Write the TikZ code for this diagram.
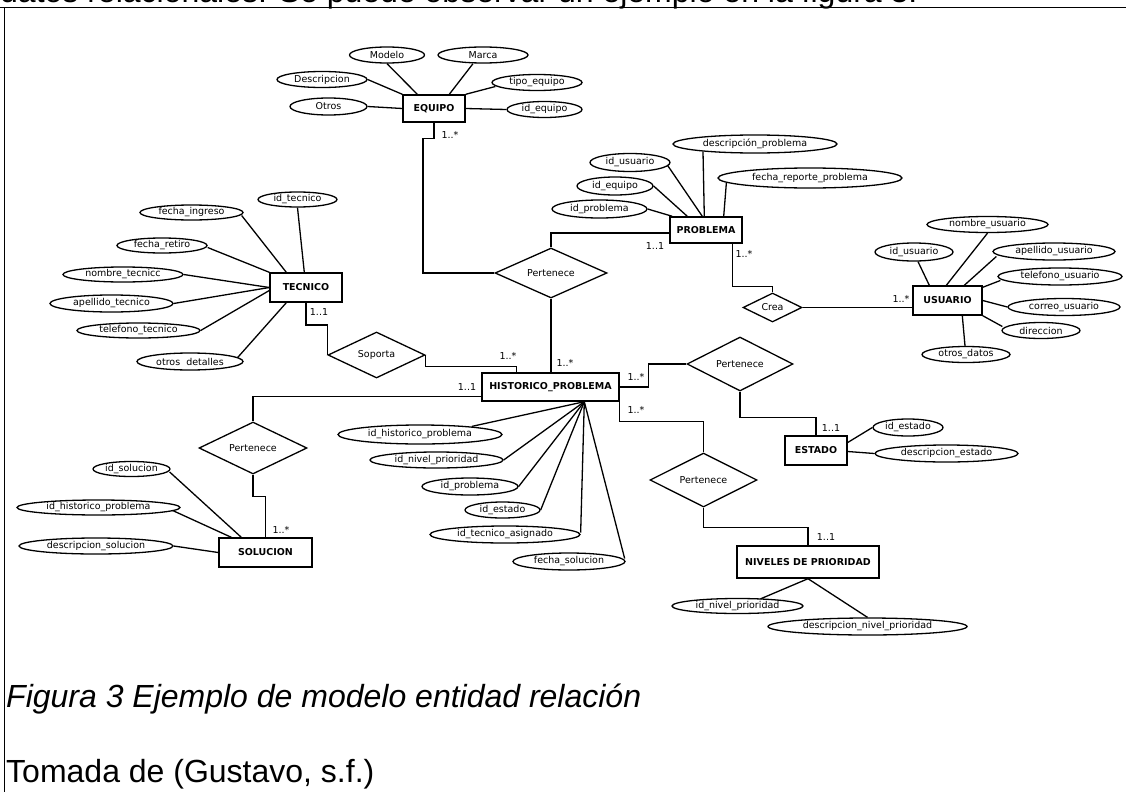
\documentclass[tikz,border=0pt]{standalone}
\usepackage{fontspec}
\setmainfont{Liberation Sans}
\newfontfamily\erfont{DejaVu Sans}
\usetikzlibrary{shapes.geometric,calc}

\tikzset{
  erfnt/.style={font=\erfont\fontsize{9.5}{10}\selectfont},
  att/.style 2 args={draw, ellipse, line width=1.3pt, inner sep=0pt,
    minimum width=#1, minimum height=#2, erfnt},
  ent/.style 2 args={draw, rectangle, line width=1.4pt, inner sep=0pt,
    minimum width=#1, minimum height=#2,
    font=\erfont\bfseries\fontsize{9.5}{10}\selectfont},
  rel/.style 2 args={draw, diamond, aspect=2, inner sep=0pt, line width=1.3pt,
    minimum width=#1, minimum height=#2, erfnt},
  card/.style={inner sep=0pt, erfnt},
  link/.style={line width=1.3pt},
  bigtext/.style={anchor=base west, inner sep=0pt, font=\fontsize{32}{38}\selectfont},
}

\begin{document}
\begin{tikzpicture}[x=1pt, y=-1pt]
\useasboundingbox (0,0) rectangle (1126,792);

% running text and page frame
\node[bigtext] (toptext) at (0,3) {datos relacionales. Se puede observar un ejemplo en la figura 3.};
\draw[line width=1pt] (0,8) -- (1126,8);
\draw[line width=1pt] (4,8) -- (4,792);

% ---------- entities ----------
\node[ent={62}{27}]  (equipo)    at (434,108.5) {EQUIPO};
\node[ent={72}{26}]  (problema)  at (706,230)   {PROBLEMA};
\node[ent={69}{29}]  (usuario)   at (947.5,300.5) {USUARIO};
\node[ent={72}{29}]  (tecnico)   at (306,287.5) {TECNICO};
\node[ent={137}{28}] (historico) at (550.5,387) {HISTORICO\_PROBLEMA};
\node[ent={62}{29}]  (estado)    at (816,450.5) {ESTADO};
\node[ent={142}{32}] (niveles)   at (808,562)   {NIVELES DE PRIORIDAD};
\node[ent={93}{29}]  (solucion)  at (265.5,552.5) {SOLUCION};

% ---------- relationships ----------
\node[rel={112}{50}] (perA)    at (551,273)   {Pertenece};
\node[rel={59}{29}]  (crea)    at (772.5,307.5) {Crea};
\node[rel={97}{46}]  (soporta) at (376.5,355) {Soporta};
\node[rel={106}{54}] (perE)    at (740,364)   {Pertenece};
\node[rel={107}{54}] (perP)    at (703.5,480) {Pertenece};
\node[rel={108}{52}] (perS)    at (253,448)   {Pertenece};

% ---------- attributes ----------
% EQUIPO
\node[att={75}{16}] (modelo) at (387,55)    {Modelo};
\node[att={90}{16}] (marca)  at (483,55)    {Marca};
\node[att={90}{16}] (descr)  at (322,79.5)  {Descripcion};
\node[att={90}{16}] (tipo)   at (537,82.5)  {tipo\_equipo};
\node[att={77}{17}] (otros)  at (328.5,106.5) {Otros};
\node[att={75}{16}] (ideq)   at (544.5,109.5) {id\_equipo};
% PROBLEMA
\node[att={164}{18}] (descprob) at (755,144)   {descripción\_problema};
\node[att={80}{18}]  (idus)     at (630,162.5) {id\_usuario};
\node[att={76}{18}]  (ideqb)    at (615,186)   {id\_equipo};
\node[att={95}{18}]  (idprob)   at (599.5,209) {id\_problema};
\node[att={184}{20}] (fecharep) at (810,178)   {fecha\_reporte\_problema};
% USUARIO
\node[att={121}{16}] (nomus)  at (987.5,224.5) {nombre\_usuario};
\node[att={78}{18}]  (idusb)  at (914,252)     {id\_usuario};
\node[att={122}{17}] (apus)   at (1054,251.5)  {apellido\_usuario};
\node[att={124}{17}] (telus)  at (1060,276.5)  {telefono\_usuario};
\node[att={112}{17}] (corus)  at (1064,307)    {correo\_usuario};
\node[att={78}{16}]  (direc)  at (1041,330.5)  {direccion};
\node[att={88}{16}]  (otrosd) at (966,354.5)   {otros\_datos};
% TECNICO
\node[att={79}{15}]  (idtec)  at (297.5,199.5) {id\_tecnico};
\node[att={103}{15}] (fing)   at (191.5,212.5) {fecha\_ingreso};
\node[att={90}{15}]  (fret)   at (162,245.5)   {fecha\_retiro};
\node[att={120}{15}] (nomtec) at (123,274.5)   {nombre\_tecnicc};
\node[att={123}{17}] (apetec) at (111.5,303.5) {apellido\_tecnico};
\node[att={123}{15}] (teltec) at (138.5,330.5) {telefono\_tecnico};
\node[att={106}{17}] (otrdet) at (190,361.5)   {otros\ \ detalles};
% HISTORICO_PROBLEMA
\node[att={164}{19}] (idhist)  at (420,434.5) {id\_historico\_problema};
\node[att={133}{16}] (idniv)   at (436.5,460) {id\_nivel\_prioridad};
\node[att={96}{17}]  (idprobb) at (470,486.5) {id\_problema};
\node[att={75}{16}]  (idest)   at (502.5,510) {id\_estado};
\node[att={150}{17}] (idtecas) at (505,534.5) {id\_tecnico\_asignado};
\node[att={112}{17}] (fsol)    at (569,561.5) {fecha\_solucion};
% ESTADO
\node[att={70}{17}]  (idestb)  at (908,427.5) {id\_estado};
\node[att={143}{17}] (descest) at (946.5,453.5) {descripcion\_estado};
% NIVELES DE PRIORIDAD
\node[att={131}{15}] (idnivb)  at (737.5,606)   {id\_nivel\_prioridad};
\node[att={199}{17}] (descniv) at (867.5,626.5) {descripcion\_nivel\_prioridad};
% SOLUCION
\node[att={77}{15}]  (idsol)   at (131.5,469) {id\_solucion};
\node[att={163}{15}] (idhistb) at (98.5,507.5) {id\_historico\_problema};
\node[att={154}{16}] (descsol) at (96,546)    {descripcion\_solucion};

% ---------- attribute links ----------
\draw[link] (modelo.south) -- ($(equipo.north west)+(15,0)$);
\draw[link] ($(marca.south)+(-10,0)$) -- ($(equipo.north west)+(47,0)$);
\draw[link] (descr.east) -- (equipo.north west);
\draw[link] ($(tipo.west)+(4,4)$) -- (equipo.north east);
\draw[link] (otros.east) -- (equipo.west);
\draw[link] (equipo.east) -- (ideq.west);

\draw[link] ($(descprob.south)+(-52,-2)$) -- ($(problema.north west)+(35,0)$);
\draw[link] ($(idus.east)+(-3,3)$) -- ($(problema.north west)+(33,0)$);
\draw[link] (ideqb.east) -- ($(problema.north west)+(18,0)$);
\draw[link] (idprob.east) -- ($(problema.north west)+(3,0)$);
\draw[link] ($(fecharep.west)+(9,5)$) -- ($(problema.north east)+(-19,0)$);

\draw[link] ($(idusb.south)+(4,0)$) -- ($(usuario.north west)+(17,0)$);
\draw[link] (nomus.south) -- ($(usuario.north west)+(34,0)$);
\draw[link] ($(apus.west)+(4,5)$) -- ($(usuario.north west)+(52,0)$);
\draw[link] ($(telus.west)+(3,4)$) -- ($(usuario.north east)+(0,2)$);
\draw[link] (usuario.east) -- (corus.west);
\draw[link] (usuario.south east) -- ($(direc.west)+(1,-4)$);
\draw[link] ($(usuario.south west)+(50,0)$) -- ($(otrosd.north)+(-1,0)$);

\draw[link] (idtec.south) -- ($(tecnico.north west)+(35,0)$);
\draw[link] ($(fing.east)+(-2,3)$) -- ($(tecnico.north west)+(17,0)$);
\draw[link] ($(fret.east)+(0,2)$) -- (tecnico.north west);
\draw[link] (nomtec.east) -- (tecnico.west);
\draw[link] (apetec.east) -- (tecnico.west);
\draw[link] (teltec.east) -- ($(tecnico.west)+(0,3)$);
\draw[link] ($(otrdet.east)+(-6,-4)$) -- ($(tecnico.south west)+(17,0)$);

\coordinate (hp) at ($(historico.south west)+(103,0)$);
\draw[link] ($(idhist.north)+(52,2)$) -- (hp);
\draw[link] (idniv.east) -- (hp);
\draw[link] (idprobb.east) -- (hp);
\draw[link] (idest.east) -- (hp);
\draw[link] ($(idtecas.east)+(0,-2)$) -- (hp);
\draw[link] ($(fsol.east)+(-1,-3)$) -- (hp);

\draw[link] (idestb.west) -- ($(estado.east)+(0,-8)$);
\draw[link] (descest.west) -- ($(estado.east)+(0,1)$);

\draw[link] ($(idnivb.north)+(23,1)$) -- (niveles.south);
\draw[link] (descniv.north) -- (niveles.south);

\draw[link] ($(idsol.east)+(-1,3)$) -- ($(solucion.north west)+(23,0)$);
\draw[link] ($(idhistb.east)+(-8,3)$) -- ($(solucion.north west)+(13,0)$);
\draw[link] (descsol.east) -- (solucion.west);

% ---------- relationship links ----------
\draw[link] (equipo.south) |- ($(equipo.south)+(-11,16)$) |- (perA.west);
\draw[link] (perA.north) |- ($(problema.west)+(0,3)$);
\draw[link] (perA.south) -- (perA.south |- historico.north);
\draw[link] ($(problema.south east)+(-10,0)$) |- ($(crea.north)+(0,-6)$) -- (crea.north);
\draw[link] (crea.east) -- (crea.east -| usuario.west);
\draw[link] (tecnico.south) |- ($(soporta.west)+(0,-30)$) -- (soporta.west);
\draw[link] (soporta.east) |- ($(historico.north west)+(35,-6)$) -- ($(historico.north west)+(35,0)$);
\draw[link] ($(historico.south west)+(0,-5)$) -| (perS.north);
\draw[link] (perS.south) |- ($(solucion.north)+(0,-41)$) -- (solucion.north);
\draw[link] (historico.east) -| ($(perE.west)+(-38,0)$) -- (perE.west);
\draw[link] (perE.south) |- ($(estado.north)+(0,-18)$) -- (estado.north);
\draw[link] (historico.south east) |- ($(perP.north)+(0,-31)$) -- (perP.north);
\draw[link] (perP.south) |- ($(niveles.north)+(0,-18)$) -- (niveles.north);

% ---------- cardinalities ----------
\node[card] (k1)  at (450,135) {1..*};
\node[card] (k2)  at (655,246) {1..1};
\node[card] (k3)  at (744,254) {1..*};
\node[card] (k4)  at (901,299) {1..*};
\node[card] (k5)  at (319,312) {1..1};
\node[card] (k6)  at (508,356) {1..*};
\node[card] (k7)  at (565,363) {1..*};
\node[card] (k8)  at (467,387) {1..1};
\node[card] (k9)  at (636,377) {1..*};
\node[card] (k10) at (636,410) {1..*};
\node[card] (k11) at (831,428) {1..1};
\node[card] (k12) at (826,537) {1..1};
\node[card] (k13) at (281,530) {1..*};

% caption
\node[bigtext, font=\itshape\fontsize{32}{38}\selectfont] (caption) at (6,707) {Figura 3 Ejemplo de modelo entidad relación};
\node[bigtext] (source) at (6,782) {Tomada de (Gustavo, s.f.)};
\end{tikzpicture}
\end{document}
